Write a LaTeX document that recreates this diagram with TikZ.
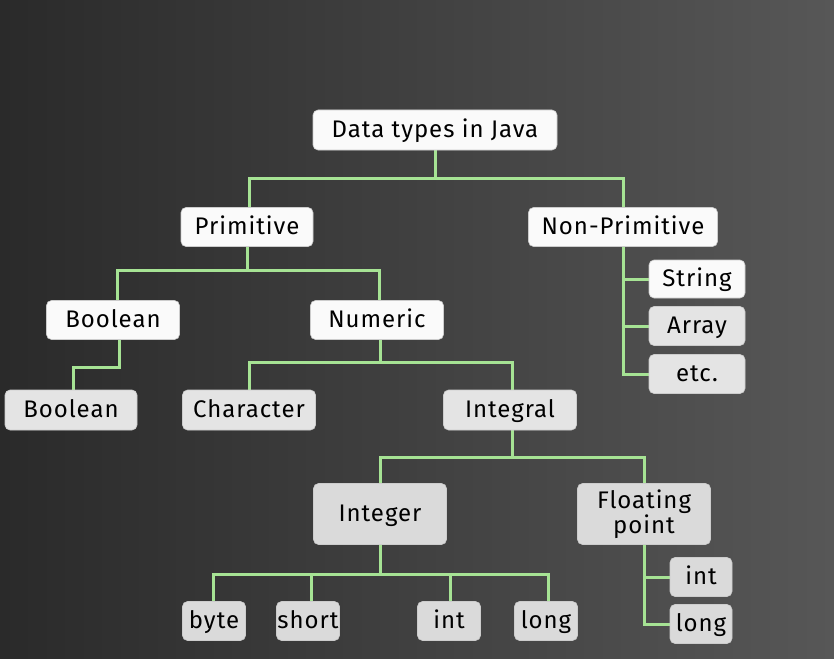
\documentclass[tikz,border=0pt]{standalone}
\usepackage{fontspec}
\setmainfont{Fira Sans}[LetterSpace=4]
\pgfdeclarelayer{bg}
\pgfsetlayers{bg,main}
\definecolor{linegreen}{HTML}{A6E394}
\definecolor{boxwhite}{HTML}{FAFAFA}
\definecolor{boxgray}{HTML}{E4E4E4}
\definecolor{boxgray2}{HTML}{DADADA}
\definecolor{bgleft}{HTML}{2A2A2A}
\definecolor{bgright}{HTML}{575757}
\begin{document}
\begin{tikzpicture}[x=1pt,y=-1pt,
  box/.style={draw=black!20, line width=0.6pt, rounded corners=5pt, fill=boxwhite, inner sep=0pt, align=center,
    font=\fontsize{24}{23}\selectfont, text=black, text height=18.5pt, text depth=3.5pt},
  gbox/.style={box, fill=boxgray},
  hbox/.style={box, fill=boxgray2},
  link/.style={draw=linegreen, line width=3pt}]
\useasboundingbox (0,0) rectangle (834,658);
% nodes
\node[box, minimum width=244, minimum height=40] (java) at (435,130) {Data types in Java};
\node[box, minimum width=132, minimum height=39] (prim) at (247,227) {Primitive};
\node[box, minimum width=189, minimum height=39] (nonprim) at (623,227) {Non-Primitive};
\node[box, minimum width=133, minimum height=39] (bool1) at (113,320) {Boolean};
\node[box, minimum width=133, minimum height=39] (num) at (377,320) {Numeric};
\node[box, minimum width=96, minimum height=38] (string) at (697,279) {String};
\node[gbox, minimum width=96, minimum height=39] (array) at (697,326) {Array};
\node[gbox, minimum width=96, minimum height=39] (etc) at (697,374) {etc.};
\node[gbox, minimum width=132, minimum height=40] (bool2) at (71,410) {Boolean};
\node[gbox, minimum width=133, minimum height=40] (char) at (249,410) {Character};
\node[gbox, minimum width=133, minimum height=40] (integral) at (510,410) {Integral};
\node[hbox, minimum width=133, minimum height=61] (integer) at (380,514) {Integer};
\node[hbox, minimum width=133, minimum height=61, font=\fontsize{24}{22}\selectfont, text height=, text depth=] (float) at (644,514) {Floating\\point};
\node[hbox, minimum width=63, minimum height=39] (byte) at (214,621) {byte};
\node[hbox, minimum width=63, minimum height=39] (short) at (308,621) {short};
\node[hbox, minimum width=63, minimum height=39] (int) at (449,621) {int};
\node[hbox, minimum width=63, minimum height=39] (long) at (546,621) {long};
\node[hbox, minimum width=62, minimum height=39] (fint) at (701,577) {int};
\node[hbox, minimum width=62, minimum height=39] (flong) at (701,624) {long};
% background and connectors (behind nodes)
\begin{pgfonlayer}{bg}
\shade[left color=bgleft, right color=bgright] (0,0) rectangle (834,658);
\draw[link] (java.south) -- (435,178) coordinate (j1);
\draw[link] (prim.north -| 249,0) |- (j1) -| (nonprim.north);
\draw[link] (prim.south) -- (247,270) coordinate (p1);
\draw[link] (bool1.north -| 117,0) |- (p1) -| (num.north -| 379,0);
\draw[link] (bool1.south -| 119,0) |- (73,367) coordinate (b1) -- (bool2.north -| b1);
\draw[link] (num.south -| 380,0) -- (380,362) coordinate (n1);
\draw[link] (char.north) |- (n1) -| (integral.north -| 512,0);
\draw[link] (integral.south -| 512,0) -- (512,457) coordinate (i1);
\draw[link] (integer.north) |- (i1) -| (float.north);
\draw[link] (integer.south) -- (380,574) coordinate (k1);
\draw[link] (byte.north -| 213,0) |- (k1) -| (long.north -| 548,0);
\draw[link] (short.north -| 311,0) -- (311,574);
\draw[link] (int.north -| 450,0) -- (450,574);
\draw[link] (nonprim.south) |- (etc.west);
\draw[link] (string.west -| nonprim.south) -- (string.west);
\draw[link] (array.west -| nonprim.south) -- (array.west);
\draw[link] (float.south) |- (flong.west);
\draw[link] (fint.west -| float.south) -- (fint.west);
\end{pgfonlayer}
\end{tikzpicture}
\end{document}
